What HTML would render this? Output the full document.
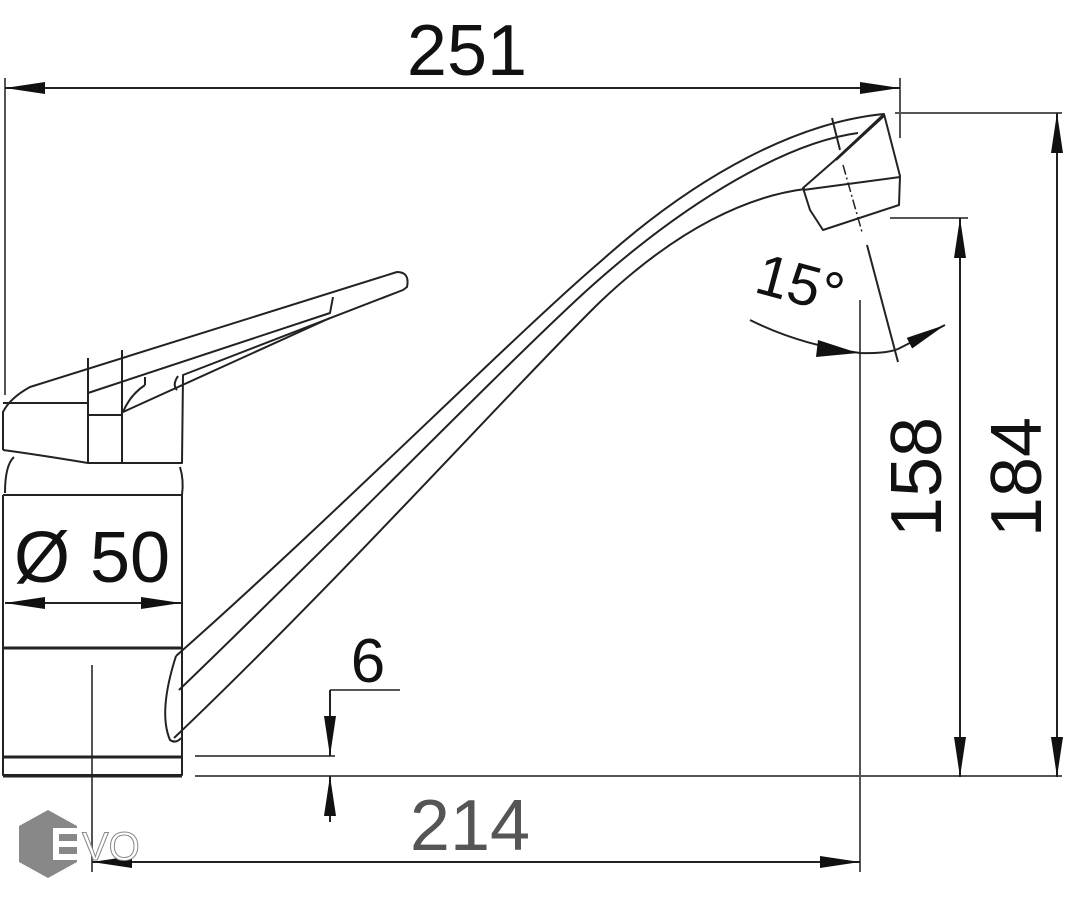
<!DOCTYPE html>
<html><head><meta charset="utf-8"><style>
html,body{margin:0;padding:0;background:#fff;}
svg{display:block;}
text{font-family:"Liberation Sans",sans-serif;}
</style></head><body>
<svg width="1069" height="900" viewBox="0 0 1069 900" xmlns="http://www.w3.org/2000/svg">
<defs>
<marker id="a" viewBox="0 0 40 12" refX="40" refY="6" markerWidth="40" markerHeight="12" markerUnits="userSpaceOnUse" orient="auto"><path d="M0,0 L40,6 L0,12 Z" fill="#111"/></marker>
<marker id="s" viewBox="0 0 40 12" refX="0" refY="6" markerWidth="40" markerHeight="12" markerUnits="userSpaceOnUse" orient="auto"><path d="M40,0 L0,6 L40,12 Z" fill="#111"/></marker>
</defs>
<g fill="none" stroke="#555" stroke-width="2">
<line x1="5" y1="78" x2="5" y2="395"/>
<line x1="900" y1="78" x2="900" y2="138"/>
<line x1="895" y1="113" x2="1062" y2="113"/>
<line x1="890" y1="218" x2="968" y2="218"/>
<line x1="195" y1="776" x2="1062" y2="776"/>
<line x1="195" y1="756" x2="335" y2="756"/>
<line x1="92" y1="665" x2="92" y2="872"/>
<line x1="860" y1="300" x2="860" y2="872"/>
<line x1="330" y1="690" x2="400" y2="690"/>
</g>
<g fill="none" stroke="#222" stroke-width="2">
<line x1="5" y1="88" x2="900" y2="88" marker-start="url(#s)" marker-end="url(#a)"/>
<line x1="1057" y1="113" x2="1057" y2="777" marker-start="url(#s)" marker-end="url(#a)"/>
<line x1="960" y1="218" x2="960" y2="777" marker-start="url(#s)" marker-end="url(#a)"/>
<line x1="5" y1="603" x2="181" y2="603" marker-start="url(#s)" marker-end="url(#a)"/>
<line x1="92" y1="862" x2="860" y2="862" marker-start="url(#s)" marker-end="url(#a)"/>
<line x1="330" y1="690" x2="330" y2="756" marker-end="url(#a)"/>
<line x1="330" y1="822" x2="330" y2="776" marker-end="url(#a)"/>
</g>
<g fill="none" stroke="#222" stroke-width="2" stroke-linejoin="round">
<path d="M3 495 L3 775 L182 775 L182 495"/>
<line x1="3" y1="495" x2="182" y2="495"/>
<line x1="3" y1="648" x2="182" y2="648" stroke-width="3"/>
<line x1="3" y1="757" x2="182" y2="757" stroke-width="3"/>
<line x1="3" y1="776" x2="182" y2="776" stroke-width="3"/>
<path d="M5 493 Q5 465 14 457"/>
<path d="M180 467 Q184 480 182 495"/>
<path d="M3 450 L3 412 Q10 398 30 387 L397 272 Q410 272 407 287 L403 290 L183 375 L182 463 L122 463 L88 463 Q40 455 3 450"/>
<line x1="88" y1="358" x2="88" y2="463"/>
<line x1="122" y1="350" x2="122" y2="463"/>
<line x1="3" y1="403" x2="88" y2="403"/>
<line x1="88" y1="415" x2="122" y2="415"/>
<path d="M88 393 L330 313 L333 297"/>
<path d="M330 318 L123 412 Q130 395 145 385"/>
<path d="M145 385 L145 377"/>
<path d="M178 376 Q172 385 177 390"/>
<path d="M176 656 C330 520, 520 330, 600 262 C700 172, 800 122, 884 114"/>
<path d="M179 690 C330 545, 500 370, 585 292 C690 197, 790 142, 858 133"/>
<path d="M174 738 C340 580, 520 380, 600 302 C680 226, 750 196, 805 189"/>
<path d="M176 656 Q158 712 170 740 Q176 744 181 738"/>
<path d="M884 114 L900 176 L899 205 L823 230 L810 210 L803 188 L835 160 Z"/>
<line x1="803" y1="190" x2="900" y2="177"/>
<line x1="836" y1="160" x2="884" y2="116"/>
<line x1="832" y1="118" x2="840" y2="150"/>
</g>
<g fill="none" stroke="#222" stroke-width="1.5" stroke-dasharray="10 3 2 3">
<line x1="843" y1="165" x2="862" y2="232"/>
</g>
<g fill="none" stroke="#222" stroke-width="2">
<line x1="867" y1="245" x2="898" y2="362"/>
<path d="M750 320 Q800 345 860 353 Q885 354 898 349"/>
<path d="M898 349 L945 325" marker-end="url(#a)"/>
</g>
<path d="M818 340 L858 353 L816 357 Z" fill="#111"/>
<g fill="#111" font-size="72">
<text x="467" y="75" text-anchor="middle">251</text>
<text x="92" y="582" text-anchor="middle" font-size="72">Ø 50</text>
<text x="368" y="682" text-anchor="middle" font-size="62">6</text>
<text x="470" y="850" text-anchor="middle" fill="#555">214</text>
<text transform="translate(941 477) rotate(-90)" text-anchor="middle">158</text>
<text transform="translate(1041 477) rotate(-90)" text-anchor="middle">184</text>
<text transform="translate(795 303) rotate(15)" text-anchor="middle" font-size="58">15°</text>
</g>
<polygon points="48,810 77,826 77,862 48,878 19,862 19,826" fill="#888"/>
<g fill="#fff"><rect x="53" y="828" width="24" height="6"/><rect x="53" y="841" width="24" height="6"/><rect x="53" y="854" width="24" height="6"/><rect x="53" y="828" width="6" height="32"/></g>
<text x="82" y="860" font-size="40" fill="#fff" stroke="#888" stroke-width="1">VO</text>
</svg>
</body></html>
